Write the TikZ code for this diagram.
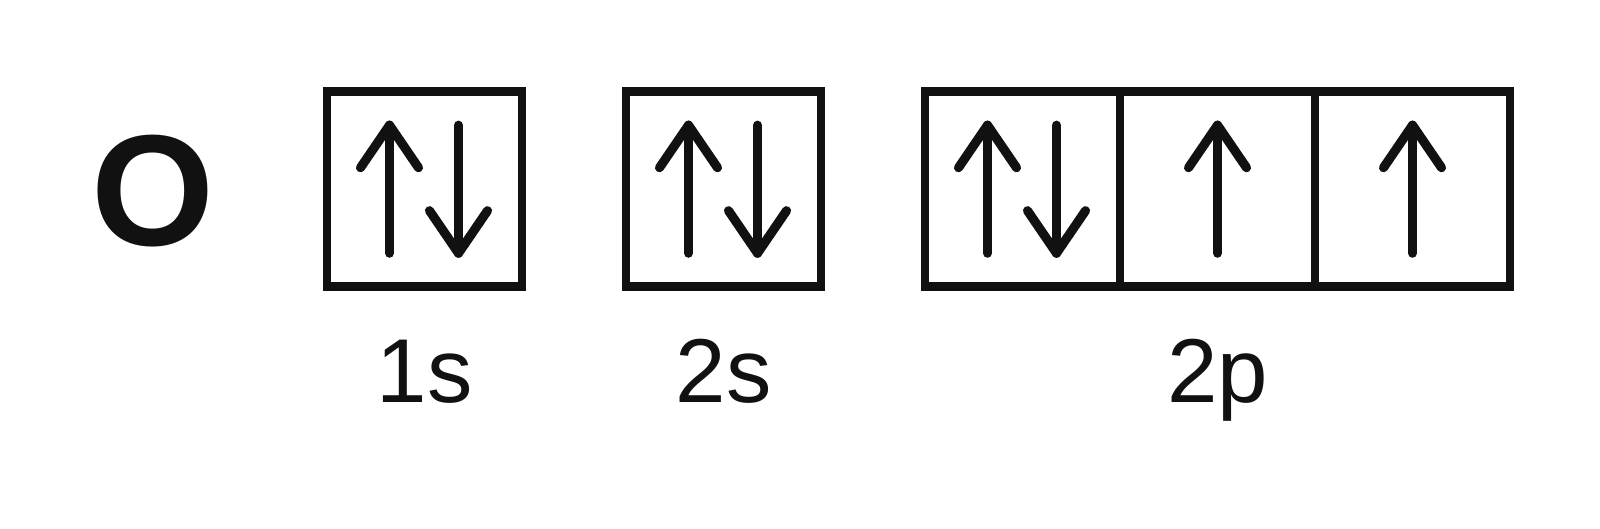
\documentclass[tikz,border=0pt]{standalone}
\usepackage{fontspec}
\setmainfont{Liberation Sans}
\usetikzlibrary{positioning}
\definecolor{ink}{HTML}{111111}
\tikzset{
  pics/spin up/.style={
    code = {
        \draw [spin line] (0,-0.64) -- (0,0.64);
        \draw [spin line] (-0.29,0.215) -- (0,0.64) -- (0.29,0.215);
    }
  },
  pics/spin down/.style={
    code = {
        \draw [spin line] (0,0.64) -- (0,-0.64);
        \draw [spin line] (-0.29,-0.215) -- (0,-0.64) -- (0.29,-0.215);
    }
  },
  spin line/.style={draw=ink, line width=2.6pt, line cap=round, line join=round},
  orbital/.style={draw=ink, line width=2.5pt, minimum size=1.95cm, inner sep=0pt, outer sep=0pt},
  orbital name/.style={font=\fontsize{25.8}{30}\selectfont, text=ink, anchor=base, inner sep=0pt}
}
\begin{document}
\begin{tikzpicture}
            \useasboundingbox (0,0) rectangle (16,5.28);
            % Elemento
            \node[font=\bfseries\fontsize{45}{50}\selectfont, text=ink, inner sep=0pt] (elem) at (1.53,3.37) {O};

            % 1s y 2s
            \node[orbital] (box1s) at (4.245,3.388) {};
            \node[orbital, right = 1.04cm of box1s] (box2s) {};
            \pic at ([xshift=-0.35cm]box1s.center) {spin up};
            \pic at ([xshift=0.34cm]box1s.center) {spin down};
            \pic at ([xshift=-0.35cm]box2s.center) {spin up};
            \pic at ([xshift=0.34cm]box2s.center) {spin down};

            % 2p
            \node[orbital, right = 1.04cm of box2s] (box2pA) {};
            \node[orbital, right = 0cm of box2pA] (box2pB) {};
            \node[orbital, right = 0cm of box2pB] (box2pC) {};
            \pic at ([xshift=-0.35cm]box2pA.center) {spin up};
            \pic at ([xshift=0.34cm]box2pA.center) {spin down};
            \pic at (box2pB.center) {spin up};
            \pic at (box2pC.center) {spin up};

            % Nombres
            \node[orbital name] (name1s) at ([yshift=-1.153cm]box1s.south) {1s};
            \node[orbital name] (name2s) at ([yshift=-1.153cm]box2s.south) {2s};
            \node[orbital name] (name2p) at ([yshift=-1.153cm]box2pB.south) {2p};
\end{tikzpicture}
\end{document}
